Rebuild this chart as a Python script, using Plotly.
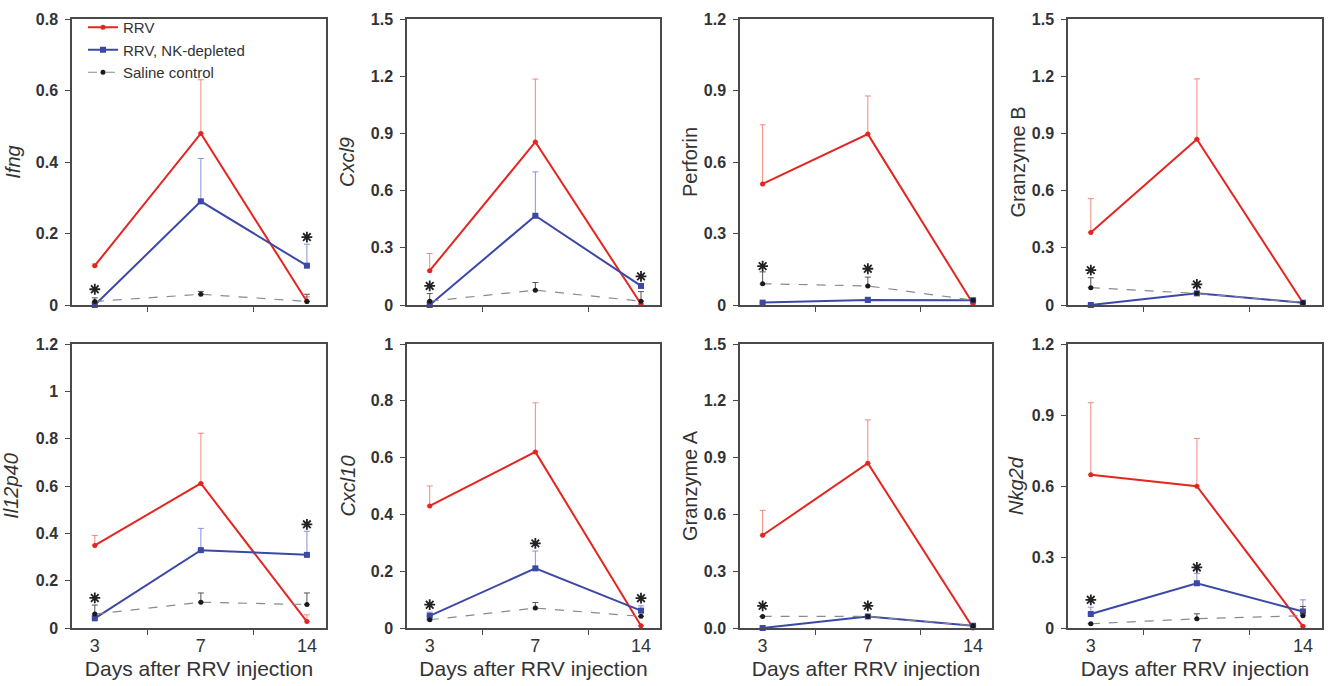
import plotly.graph_objects as go

# ---------------- data ----------------
days = ["3", "7", "14"]
genes = ["Ifng", "Cxcl9", "Perforin", "Granzyme B", "Il12p40", "Cxcl10", "Granzyme A", "Nkg2d"]
italic = [True, True, False, False, True, True, False, True]
ymax = [0.8, 1.5, 1.2, 1.5, 1.2, 1.0, 1.5, 1.2]
ystep = [0.2, 0.3, 0.3, 0.3, 0.2, 0.2, 0.3, 0.3]
ytick_fmt = ["g", "g", "g", "g", "g", "g", ".1f", "g"]

rrv = [[0.11, 0.48, 0.01], [0.18, 0.855, 0.005], [0.508, 0.717, 0.005], [0.38, 0.869, 0.012],
       [0.349, 0.611, 0.027], [0.43, 0.62, 0.008], [0.49, 0.87, 0.0], [0.648, 0.599, 0.007]]
rrv_err = [[0.005, 0.15, 0.013], [0.09, 0.33, 0.0], [0.248, 0.16, 0.0], [0.178, 0.317, 0.0],
           [0.042, 0.212, 0.029], [0.07, 0.173, 0.0], [0.131, 0.229, 0.0], [0.304, 0.202, 0.0]]
nk = [[0.0, 0.29, 0.11], [0.0, 0.468, 0.10], [0.01, 0.021, 0.02], [0.0, 0.061, 0.012],
      [0.041, 0.329, 0.309], [0.043, 0.21, 0.061], [0.0, 0.061, 0.012], [0.059, 0.189, 0.07]]
nk_err = [[0.005, 0.12, 0.06], [0.0, 0.23, 0.01], [0.0, 0.012, 0.0], [0.0, 0.0, 0.0],
          [0.01, 0.092, 0.1], [0.013, 0.061, 0.017], [0.0, 0.0, 0.0], [0.029, 0.042, 0.049]]
sal = [[0.01, 0.03, 0.01], [0.02, 0.078, 0.02], [0.089, 0.08, 0.02], [0.091, 0.061, 0.012],
       [0.059, 0.109, 0.099], [0.029, 0.07, 0.041], [0.061, 0.061, 0.012], [0.018, 0.039, 0.052]]
sal_err = [[0.01, 0.008, 0.02], [0.04, 0.04, 0.05], [0.05, 0.037, 0.0], [0.052, 0.0, 0.0],
           [0.038, 0.039, 0.049], [0.0, 0.02, 0.0], [0.0, 0.0, 0.0], [0.0, 0.021, 0.039]]
# significance stars: (day index, height)
stars = [[(0, 0.044), (2, 0.19)], [(0, 0.10), (2, 0.15)], [(0, 0.163), (1, 0.152)],
         [(0, 0.183), (1, 0.108)], [(0, 0.127), (2, 0.438)], [(0, 0.082), (1, 0.298), (2, 0.105)],
         [(0, 0.117), (1, 0.117)], [(0, 0.119), (1, 0.256)]]
series_names = ["RRV", "RRV, NK-depleted", "Saline control"]

# ---------------- layout geometry ----------------
W, H = 1329, 686
xdom_px = [(72, 326), (407, 660), (740, 992), (1068, 1322)]
ydom_px = [(19, 305), (344, 628)]
title_standoff = [10, 11, 1, 1, 12, 10, 1, 3]

FONT = "Arial, Liberation Sans, Helvetica, sans-serif"
AX = "#4a4a4a"
TXT = "#333333"

xpos = [2 * i for i in range(len(days))]

fig = go.Figure()
for p in range(8):
    row, col = divmod(p, 4)
    k = "" if p == 0 else str(p + 1)
    xa, ya = "x" + k, "y" + k
    styles = [
        (rrv[p], rrv_err[p], dict(color="#e52521", width=2), dict(symbol="circle", size=5, color="#e52521"), "#f08a7e"),
        (nk[p], nk_err[p], dict(color="#3c48a6", width=2), dict(symbol="square", size=6, color="#3c48a6"), "#8b8fd6"),
        (sal[p], sal_err[p], dict(color="#8a8a8a", width=1.2, dash="dash"), dict(symbol="circle", size=5, color="#1a1a1a"), "#555555"),
    ]
    for s, (vals, errs, line, marker, ecol) in enumerate(styles):
        fig.add_trace(go.Scatter(
            x=xpos, y=vals, mode="lines+markers", name=series_names[s],
            line=line, marker=marker, cliponaxis=False,
            error_y=dict(type="data", array=errs, arrayminus=[0] * len(errs), symmetric=False,
                         color=ecol, thickness=1, width=3),
            showlegend=(p == 0), xaxis=xa, yaxis=ya))
    fig.add_trace(go.Scatter(
        x=[xpos[i] for i, _ in stars[p]], y=[v for _, v in stars[p]], mode="markers",
        marker=dict(symbol="asterisk-open", size=9, color="#222222", line=dict(color="#222222", width=1.8)),
        showlegend=False, cliponaxis=False, xaxis=xa, yaxis=ya, hoverinfo="skip"))

    x0, x1 = xdom_px[col]
    yt, yb = ydom_px[row]
    n = int(round(ymax[p] / ystep[p]))
    tv = [round(i * ystep[p], 3) for i in range(n + 1)]
    tt = [format(v, ytick_fmt[p]) for v in tv]
    title = f"<i>{genes[p]}</i>" if italic[p] else genes[p]
    xkey = "xaxis" + k
    ykey = "yaxis" + k
    fig.layout[xkey] = dict(
        domain=[x0 / W, x1 / W], anchor=ya, range=[-0.43, 4.36], automargin=False,
        tickmode="array", tickvals=xpos, ticktext=days,
        showticklabels=(row == 1), ticks="outside", ticklen=1, tickcolor="rgba(0,0,0,0)",
        minor=dict(tickmode="array", tickvals=[1, 3], ticks="outside", ticklen=5, tickcolor=AX, tickwidth=1.3),
        tickfont=dict(family=FONT, size=18, color=TXT),
        showline=True, linecolor=AX, linewidth=1.5, mirror=True, showgrid=False, zeroline=False,
        title=dict(text="Days after RRV injection" if row == 1 else "", font=dict(family=FONT, size=21, color=TXT), standoff=6),
    )
    fig.layout[ykey] = dict(
        domain=[1 - yb / H, 1 - yt / H], anchor=xa, range=[0, ymax[p]], automargin=False,
        tickmode="array", tickvals=tv, ticktext=tt,
        ticks="outside", ticklen=5, tickwidth=1.3, tickcolor=AX, ticklabelstandoff=4,
        tickfont=dict(family=FONT, size=16, color=TXT, weight="bold"),
        showline=True, linecolor=AX, linewidth=1.5, mirror=True, showgrid=False, zeroline=False,
        title=dict(text=title, font=dict(family=FONT, size=20, color=TXT), standoff=title_standoff[p]),
    )

fig.update_layout(
    width=W, height=H, margin=dict(l=0, r=0, t=0, b=0, autoexpand=False),
    paper_bgcolor="white", plot_bgcolor="white",
    font=dict(family=FONT, color=TXT),
    legend=dict(x=83 / W, y=1 - 11 / H, xanchor="left", yanchor="top",
                bgcolor="rgba(0,0,0,0)", font=dict(family=FONT, size=15, color=TXT),
                tracegroupgap=0, itemwidth=30),
)
fig.write_html("out.html", config={"displayModeBar": False},
               post_script="document.body.style.margin='0';")
